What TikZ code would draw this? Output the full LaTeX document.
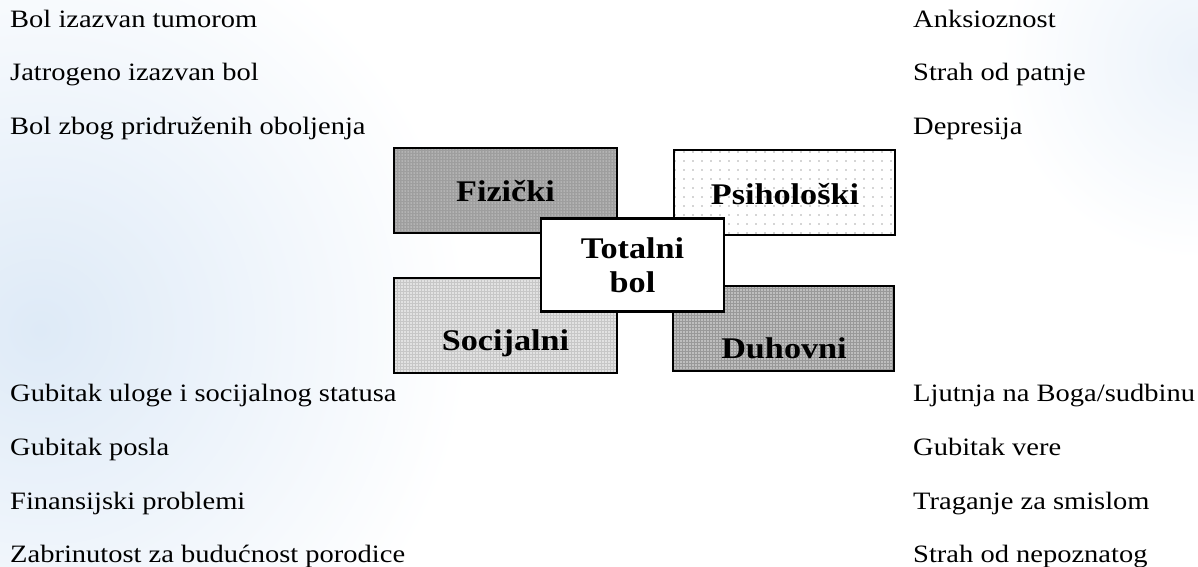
\documentclass[tikz,border=0pt]{standalone}
\usepackage{fontspec}
\setmainfont{Liberation Serif}[FakeStretch=1.14]
\usetikzlibrary{patterns,patterns.meta}
\definecolor{bgblue}{RGB}{222,234,247}
\begin{document}
\begin{tikzpicture}[x=1pt,y=-1pt,
  item/.style={anchor=base west,inner sep=0pt,font=\fontsize{25}{30}\selectfont},
  boxbase/.style={draw=black,line width=2.6pt,inner sep=0pt},
  blabel/.style={anchor=base,inner sep=0pt,font=\fontsize{30}{34}\selectfont\bfseries},
  fizbox/.style={boxbase,preaction={fill=black!38},pattern={Dots[distance=3pt,radius=0.75pt]},pattern color=white!80!black},
  psibox/.style={boxbase,preaction={fill=white},pattern={Dots[distance=9pt,radius=0.7pt]},pattern color=black!70},
  socbox/.style={boxbase,preaction={fill=black!22},pattern={Dots[distance=3pt,radius=0.8pt]},pattern color=white},
  duhbox/.style={boxbase,preaction={fill=black!40},pattern={Dots[distance=3pt,radius=0.8pt]},pattern color=white!90!black},
  totbox/.style={boxbase,fill=white,align=center,font=\fontsize{30}{34}\selectfont\bfseries}
]
\useasboundingbox (0,0) rectangle (1198,566);
\begin{scope}
\clip (0,0) rectangle (1198,566);
\fill[white] (0,0) rectangle (1198,566);
\shade[inner color=bgblue,outer color=white] (40,330) circle (430);
\shade[inner color=bgblue!60,outer color=white] (1200,60) circle (200);
\end{scope}

% left column
\node[item] (l1) at (10,27) {Bol izazvan tumorom};
\node[item] (l2) at (10,80.5) {Jatrogeno izazvan bol};
\node[item] (l3) at (10,134) {Bol zbog pridruženih oboljenja};
\node[item] (l4) at (10,401) {Gubitak uloge i socijalnog statusa};
\node[item] (l5) at (10,455) {Gubitak posla};
\node[item] (l6) at (10,509) {Finansijski problemi};
\node[item] (l7) at (10,562) {Zabrinutost za budućnost porodice};
% right column
\node[item] (r1) at (913,27) {Anksioznost};
\node[item] (r2) at (913,80.5) {Strah od patnje};
\node[item] (r3) at (913,134) {Depresija};
\node[item] (r4) at (913,401) {Ljutnja na Boga/sudbinu};
\node[item] (r5) at (913,455) {Gubitak vere};
\node[item] (r6) at (913,509) {Traganje za smislom};
\node[item] (r7) at (913,562) {Strah od nepoznatog};

% boxes
\node[fizbox,minimum width=223pt,minimum height=85pt] (fiz) at (505.5,190.5) {};
\node[psibox,minimum width=221pt,minimum height=85pt] (psi) at (784.5,192.5) {};
\node[socbox,minimum width=223pt,minimum height=95pt] (soc) at (505.5,325.5) {};
\node[duhbox,minimum width=221pt,minimum height=85pt] (duh) at (783.5,328.5) {};
\node[blabel] (fizl) at (505.5,201) {Fizički};
\node[blabel] (psil) at (785,204) {Psihološki};
\node[blabel] (socl) at (505.5,350) {Socijalni};
\node[blabel] (duhl) at (784,358) {Duhovni};
\node[totbox,minimum width=183pt,minimum height=93pt] (tot) at (632.5,265) {Totalni\\bol};
\end{tikzpicture}
\end{document}
